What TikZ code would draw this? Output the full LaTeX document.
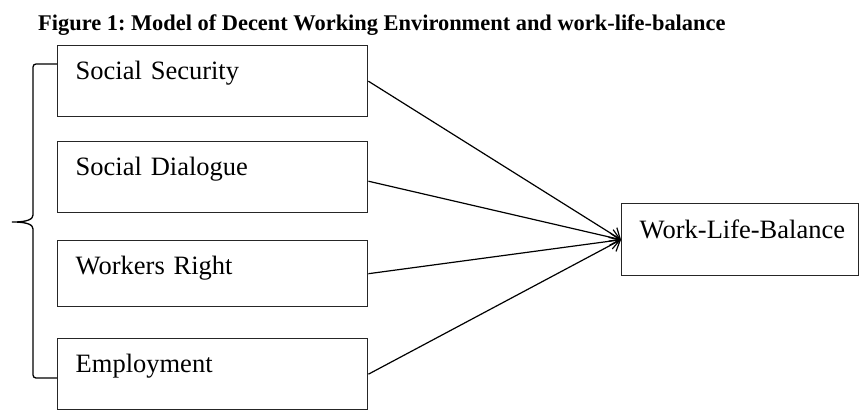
\documentclass[tikz,border=0pt]{standalone}
\usepackage{fontspec}
\setmainfont{Liberation Serif}
\usetikzlibrary{arrows.meta,calc}
\begin{document}
\frenchspacing
\begin{tikzpicture}[x=1pt,y=-1pt,
  factor/.style={draw=black!85,line width=1.4pt,rectangle,anchor=north west,
    inner ysep=0pt,inner xsep=18pt,align=left,text height=34pt,text depth=37pt,
    font=\fontsize{26.5}{30}\selectfont},
  link/.style={line width=1.2pt,-{Straight Barb[length=9pt,width=16pt,line width=1.2pt]}},
  bracket/.style={line width=1.3pt,rounded corners=3pt}]
\useasboundingbox (0,0) rectangle (859,413);
\node[anchor=base west,inner sep=0pt,font=\fontsize{22.4}{26}\selectfont\bfseries] (title) at (38,30)
  {Figure 1: Model of Decent Working Environment and work-life-balance};
\node[factor,text width=274pt] (ss) at (57,45) {Social Security};
\node[factor,text width=274pt] (sd) at (57,141) {Social Dialogue};
\node[factor,text width=274pt,text depth=32pt] (wr) at (57,240) {Workers Right};
\node[factor,text width=215pt,inner xsep=11pt,text height=35pt,text depth=37pt] (wlb) at (621,203)
  {\mbox{\hspace*{7pt}Work-Life-Balance}};
\node[factor,text width=274pt] (emp) at (57,338) {Employment};
% arrows converging on the outcome
\draw[link] (ss.east) -- (wlb.west);
\draw[link] ($(sd.east)+(0,4)$) -- (wlb.west);
\draw[link] (wr.east) -- (wlb.west);
\draw[link] (emp.east) -- (wlb.west);
% grouping brace on the left
\coordinate (btop) at ($(ss.north west)+(0,19)$);
\coordinate (bbot) at ($(emp.north west)+(0,40)$);
\coordinate (tip) at (10,222);
\draw[bracket] (btop) -- (33,64) -- (33,212)
  .. controls (33,219) and (28,222) .. (tip)
  .. controls (28,222) and (33,225) .. (33,232) -- (33,378) -- (bbot);
\end{tikzpicture}
\end{document}
